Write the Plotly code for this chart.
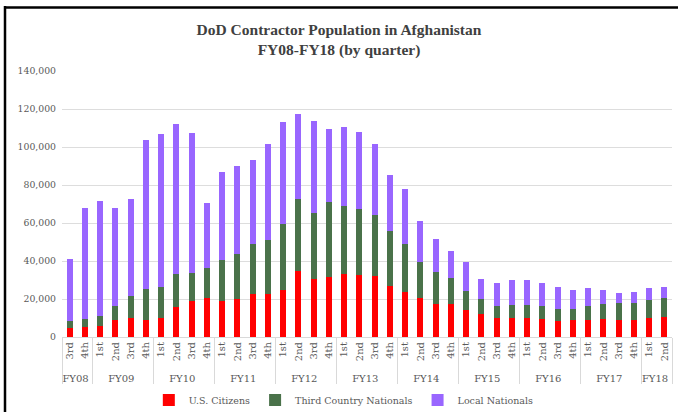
import plotly.graph_objects as go

fiscal_years = ["FY08"] * 2 + ["FY09"] * 4 + ["FY10"] * 4 + ["FY11"] * 4 + ["FY12"] * 4 + \
    ["FY13"] * 4 + ["FY14"] * 4 + ["FY15"] * 4 + ["FY16"] * 4 + ["FY17"] * 4 + ["FY18"] * 2
# zero-width space keeps FY08's labels distinct so plotly orders quarters 1st..4th elsewhere
quarters = ["3rd\u200b", "4th\u200b"] + ["1st", "2nd", "3rd", "4th"] * 9 + ["1st", "2nd"]

us_citizens = [4700, 5300, 6000, 9100, 9800, 9100, 9800, 15600, 18800, 20600,
               19000, 20200, 22800, 22800, 24900, 34600, 30400, 31600, 33200, 32800,
               32300, 26900, 23700, 20700, 17400, 17400, 14100, 11900, 9800, 10200,
               10200, 9500, 8400, 9000, 9100, 9300, 9100, 9100, 10200, 10700]
totals_tcn_top = [8300, 9300, 10900, 16300, 21600, 25100, 26200, 33400, 33700, 36200,
                  40600, 43700, 48800, 50800, 59700, 72400, 65500, 70800, 68900, 67300,
                  64100, 55700, 48800, 39700, 34100, 31100, 24200, 20000, 16300, 17000,
                  16700, 16200, 14800, 14900, 16300, 17200, 18100, 17700, 19300, 20700]
totals = [40800, 68000, 71500, 68000, 72700, 103800, 107000, 111900, 107300, 70300,
          87100, 90100, 92900, 101500, 113300, 117200, 113500, 109300, 110300, 107700,
          101500, 85400, 77800, 61300, 51500, 45100, 39500, 30700, 28600, 30000,
          30200, 28500, 26200, 24900, 25800, 24600, 23200, 23500, 25800, 26500]

third_country = [t - u for t, u in zip(totals_tcn_top, us_citizens)]
local_nationals = [t - g for t, g in zip(totals, totals_tcn_top)]

series = [
    ("U.S. Citizens", us_citizens, "#FF0000"),
    ("Third Country Nationals", third_country, "#4A724A"),
    ("Local Nationals", local_nationals, "#9966FF"),
]

fig = go.Figure()
for name, vals, color in series:
    fig.add_trace(go.Bar(
        x=[fiscal_years, quarters], y=vals, name=name,
        marker=dict(color=color, line=dict(width=0)),
    ))

font_family = "DejaVu Serif"
text_color = "#595959"

fig.update_layout(
    width=678, height=412,
    barmode="stack", bargap=0.6,
    paper_bgcolor="white", plot_bgcolor="white",
    margin=dict(l=62, r=6, t=71, b=75, autoexpand=False),
    title=dict(
        text="<b>DoD Contractor Population in Afghanistan<br>FY08-FY18 (by quarter)</b>",
        x=0.5, xanchor="center", xref="container", y=0.915, yanchor="middle",
        font=dict(family="Liberation Serif", size=15.5, color="#404040"),
    ),
    font=dict(family=font_family, size=10, color=text_color),
    legend=dict(
        orientation="h", x=0.462, xanchor="center", y=-0.237, yanchor="middle",
        traceorder="normal", font=dict(family=font_family, size=9.5, color=text_color),
        itemwidth=30,
    ),
    xaxis=dict(
        type="multicategory", tickangle=-90, automargin=False,
        tickfont=dict(family=font_family, size=10, color=text_color),
        showdividers=True, dividercolor="#D9D9D9", dividerwidth=1,
        showline=True, linecolor="#D9D9D9", linewidth=1, ticks="",
        showgrid=False,
    ),
    yaxis=dict(
        range=[0, 140000], dtick=20000, tickformat=",", automargin=False,
        showgrid=True, gridcolor="#DDDDDD", gridwidth=1,
        zeroline=False, showline=False,
        tickfont=dict(family=font_family, size=9.3, color=text_color),
        ticks="", ticklabelstandoff=5,
    ),
    shapes=[
        dict(type="line", xref="paper", yref="paper",
             x0=(4 - 62) / 610, x1=(678 - 62) / 610,
             y0=(337 - 7.5) / 266, y1=(337 - 7.5) / 266,
             line=dict(color="black", width=2.5)),
        dict(type="line", xref="paper", yref="paper",
             x0=(5 - 62) / 610, x1=(5 - 62) / 610,
             y0=(337 - 6) / 266, y1=(337 - 412) / 266,
             line=dict(color="black", width=2.5)),
    ],
)

fig.write_html(
    "out.html",
    config={"displayModeBar": False},
    post_script=(
        "document.body.style.margin='0';document.body.style.padding='0';"
        "document.body.style.overflow='hidden';"
        "document.documentElement.style.overflow='hidden';"
    ),
)
